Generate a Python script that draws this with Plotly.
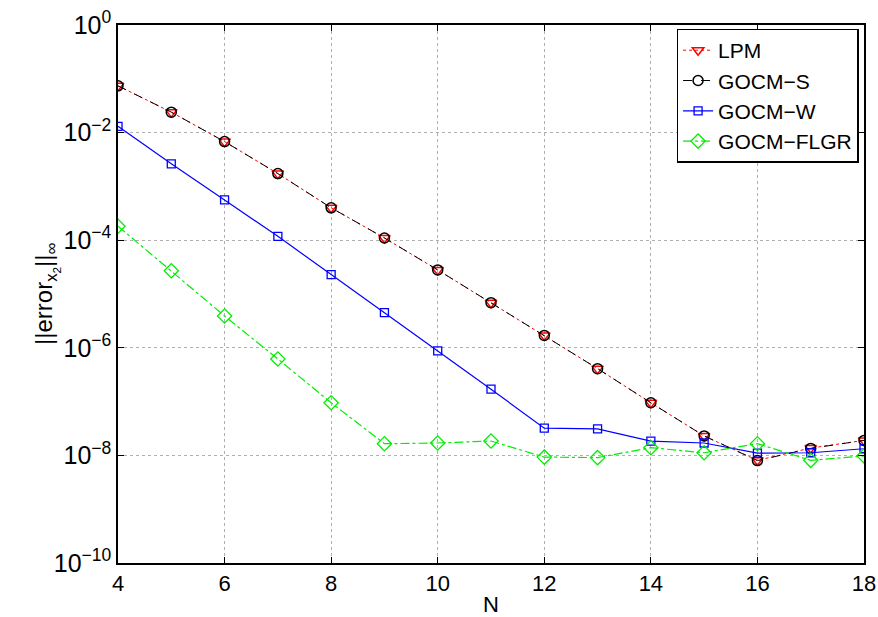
import plotly.graph_objects as go

N = [4, 5, 6, 7, 8, 9, 10, 11, 12, 13, 14, 15, 16, 17, 18]
lpm = [7.4e-2, 2.4e-2, 6.8e-3, 1.73e-3, 4.0e-4, 1.1e-4, 2.8e-5, 6.9e-6, 1.7e-6,
       4.1e-7, 9.5e-8, 2.3e-8, 8.1e-9, 1.37e-8, 1.9e-8]
gocm_s = [7.4e-2, 2.4e-2, 6.8e-3, 1.73e-3, 4.0e-4, 1.1e-4, 2.8e-5, 6.9e-6, 1.7e-6,
          4.1e-7, 9.5e-8, 2.3e-8, 8.0e-9, 1.35e-8, 1.9e-8]
gocm_w = [1.31e-2, 2.63e-3, 5.6e-4, 1.18e-4, 2.3e-5, 4.5e-6, 8.8e-7, 1.7e-7, 3.2e-8,
          3.1e-8, 1.85e-8, 1.7e-8, 1.1e-8, 1.12e-8, 1.33e-8]
gocm_flgr = [1.82e-4, 2.7e-5, 3.9e-6, 6.2e-7, 9.5e-8, 1.65e-8, 1.7e-8, 1.85e-8, 9.3e-9,
             9.1e-9, 1.39e-8, 1.12e-8, 1.65e-8, 8.1e-9, 9.8e-9]

x_ticks = [4, 6, 8, 10, 12, 14, 16, 18]
y_exps = [0, -2, -4, -6, -8, -10]

FONT = "Liberation Sans"

fig = go.Figure()
fig.add_trace(go.Scatter(x=N, y=lpm, name="LPM", mode="lines+markers",
                         line=dict(color="red", width=1, dash="dot"),
                         marker=dict(symbol="triangle-down-open", size=10,
                                     color="red", line=dict(width=1.5))))
fig.add_trace(go.Scatter(x=N, y=gocm_s, name="GOCM\u2212S", mode="lines+markers",
                         line=dict(color="black", width=1, dash="dash"),
                         marker=dict(symbol="circle-open", size=10,
                                     color="black", line=dict(width=1.5))))
fig.add_trace(go.Scatter(x=N, y=gocm_w, name="GOCM\u2212W", mode="lines+markers",
                         line=dict(color="blue", width=1.2),
                         marker=dict(symbol="square-open", size=8,
                                     color="blue", line=dict(width=1.3))))
fig.add_trace(go.Scatter(x=N, y=gocm_flgr, name="GOCM\u2212FLGR", mode="lines+markers",
                         line=dict(color="#00ee00", width=1.2, dash="dashdot"),
                         marker=dict(symbol="diamond-open", size=11,
                                     color="#00ee00", line=dict(width=1.3))))

fig.update_layout(
    width=878, height=617,
    margin=dict(l=118, r=14, t=25, b=54, autoexpand=False),
    paper_bgcolor="white", plot_bgcolor="white",
    font=dict(family=FONT, size=22, color="black"),
    showlegend=True,
    legend=dict(x=0.993, y=0.993, xanchor="right", yanchor="top",
                bgcolor="white", bordercolor="black", borderwidth=1.3,
                font=dict(family=FONT, size=21), tracegroupgap=0,
                itemwidth=30),
    annotations=[dict(text="||error<sub>x<sub>2</sub></sub>||<sub>\u221e</sub>",
                      x=0, y=0.5, xref="paper", yref="paper",
                      xanchor="center", yanchor="middle", xshift=-72,
                      textangle=-90, showarrow=False,
                      font=dict(family=FONT, size=24))],
)
fig.update_xaxes(
    range=[4, 18], tickvals=x_ticks, ticktext=[str(v) for v in x_ticks],
    showline=True, linecolor="black", linewidth=1.5, mirror="ticks",
    ticks="inside", ticklen=6, tickcolor="black",
    showgrid=True, gridcolor="#b0b0b0", griddash="dot", gridwidth=1,
    zeroline=False, automargin=False,
    title=dict(text="N", standoff=2, font=dict(size=22)),
    tickfont=dict(size=22),
)
fig.update_yaxes(
    type="log", range=[-10, 0],
    tickvals=[10.0 ** e for e in y_exps],
    ticktext=["10<sup>%s</sup>" % (str(e) if e == 0 else "\u2212%d" % (-e)) for e in y_exps],
    showline=True, linecolor="black", linewidth=1.5, mirror="ticks",
    ticks="inside", ticklen=6, tickcolor="black",
    showgrid=True, gridcolor="#b0b0b0", griddash="dot", gridwidth=1,
    zeroline=False, automargin=False,
    tickfont=dict(size=25),
)

fig.write_html("out.html")
